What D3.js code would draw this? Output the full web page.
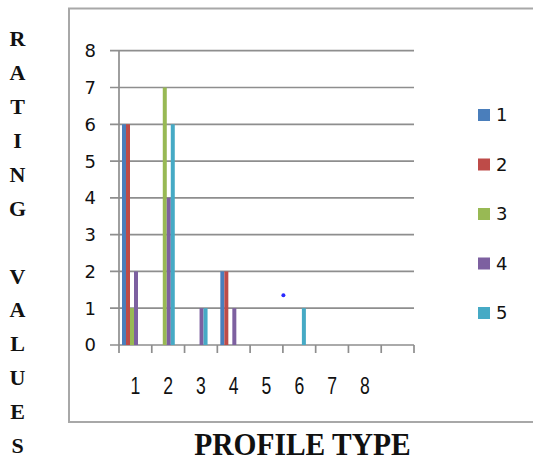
<!DOCTYPE html>
<html>
<head>
<meta charset="utf-8">
<script src="https://cdn.jsdelivr.net/npm/d3@7"></script>
<style>
  html, body { margin: 0; padding: 0; background: #fff; }
  svg { display: block; }
</style>
</head>
<body>
<svg id="chart" width="533" height="462"></svg>
<script>
// Profile types along the x axis (the last slot carries no label)
const categories = [1, 2, 3, 4, 5, 6, 7, 8, 9];
const tickLabels = ["1", "2", "3", "4", "5", "6", "7", "8", ""];
const seriesNames = ["1", "2", "3", "4", "5"];
const seriesColors = ["#4A7EBB", "#BE4B48", "#98B954", "#7D60A0", "#46AAC5"];

// Rating values per series, one entry per profile type
const series1 = [6, 0, 0, 2, 0, 0, 0, 0, 0];
const series2 = [6, 0, 0, 2, 0, 0, 0, 0, 0];
const series3 = [1, 7, 0, 0, 0, 0, 0, 0, 0];
const series4 = [2, 4, 1, 1, 0, 0, 0, 0, 0];
const series5 = [0, 6, 1, 0, 0, 1, 0, 0, 0];
const yTicks = [0, 1, 2, 3, 4, 5, 6, 7, 8];

// A lone marker sitting on the boundary before profile type 6
const strayMarks = [{ boundary: 6, value: 1.35 }];

const allSeries = [series1, series2, series3, series4, series5];

const svg = d3.select("#chart");

const plot = { left: 119, right: 414, top: 50.7, bottom: 345 };

const x0 = d3.scaleBand().domain(categories).range([plot.left, plot.right]).padding(0);
const x1 = d3.scaleBand().domain(seriesNames).range([3, 23]).padding(0);
const y = d3.scaleLinear().domain([0, 8]).range([plot.bottom, plot.top]);

// Outer chart frame (open to the right)
svg.append("rect")
  .attr("x", 69).attr("y", 8.5)
  .attr("width", 520).attr("height", 413.5)
  .attr("fill", "none")
  .attr("stroke", "#a8a8a8")
  .attr("stroke-width", 2);

const gridColor = "#8e8e8e";

// Horizontal gridlines with their short ticks left of the axis
svg.append("g").selectAll("line")
  .data(yTicks)
  .join("line")
  .attr("x1", plot.left - 9).attr("x2", plot.right)
  .attr("y1", d => y(d)).attr("y2", d => y(d))
  .attr("stroke", gridColor)
  .attr("stroke-width", 1.7);

// Vertical axis line
svg.append("line")
  .attr("x1", plot.left).attr("x2", plot.left)
  .attr("y1", y(8)).attr("y2", y(0))
  .attr("stroke", gridColor)
  .attr("stroke-width", 1.7);

// Category boundary ticks below the baseline
const boundaries = categories.map(c => x0(c)).concat([plot.right]);
svg.append("g").selectAll("line")
  .data(boundaries)
  .join("line")
  .attr("x1", d => d).attr("x2", d => d)
  .attr("y1", y(0)).attr("y2", y(0) + 8)
  .attr("stroke", gridColor)
  .attr("stroke-width", 1.7);

// Y tick labels
svg.append("g").selectAll("text")
  .data(yTicks)
  .join("text")
  .attr("x", 96)
  .attr("y", d => y(d))
  .attr("dy", "0.36em")
  .attr("text-anchor", "end")
  .attr("font-family", "DejaVu Sans, sans-serif")
  .attr("font-size", 18)
  .attr("fill", "#111")
  .text(d => d);

// X tick labels at band centres
svg.append("g").selectAll("text")
  .data(categories)
  .join("text")
  .attr("transform", d => `translate(${x0(d) + x0.bandwidth() / 2},${386}) scale(0.88,1.15)`)
  .attr("dy", "0.36em")
  .attr("text-anchor", "middle")
  .attr("font-family", "Liberation Sans, sans-serif")
  .attr("font-size", 20)
  .attr("fill", "#111")
  .text((d, i) => tickLabels[i]);

// Grouped bars
const barData = [];
categories.forEach((c, ci) => {
  seriesNames.forEach((s, si) => {
    barData.push({ cat: c, series: s, value: allSeries[si][ci], color: seriesColors[si] });
  });
});

svg.append("g").selectAll("rect")
  .data(barData.filter(d => d.value > 0))
  .join("rect")
  .attr("x", d => x0(d.cat) + x1(d.series))
  .attr("y", d => y(d.value))
  .attr("width", x1.bandwidth())
  .attr("height", d => y(0) - y(d.value))
  .attr("fill", d => d.color);

// Stray marker
svg.append("defs").append("filter")
  .attr("id", "soft")
  .append("feGaussianBlur").attr("stdDeviation", 0.6);

svg.append("g").selectAll("circle")
  .data(strayMarks)
  .join("circle")
  .attr("cx", d => x0(d.boundary) + 0.5)
  .attr("cy", d => y(d.value))
  .attr("r", 2)
  .attr("fill", "#2a2aff")
  .attr("filter", "url(#soft)");

// Legend
const legend = svg.append("g").selectAll("g")
  .data(seriesNames)
  .join("g")
  .attr("transform", (d, i) => `translate(478,${115 + i * 49.5})`);

legend.append("rect")
  .attr("x", 0).attr("y", -6)
  .attr("width", 12).attr("height", 12)
  .attr("fill", (d, i) => seriesColors[i]);

legend.append("text")
  .attr("x", 18).attr("y", 0)
  .attr("dy", "0.36em")
  .attr("font-family", "DejaVu Sans, sans-serif")
  .attr("font-size", 18)
  .attr("fill", "#111")
  .text(d => d);

// Vertical axis title, stacked letter by letter
const yTitle = "RATING VALUES".split("");
svg.append("g").selectAll("text")
  .data(yTitle)
  .join("text")
  .attr("x", 17.5)
  .attr("y", (d, i) => 38.5 + i * 33.9)
  .attr("dy", "0.35em")
  .attr("text-anchor", "middle")
  .attr("font-family", "Liberation Serif, serif")
  .attr("font-weight", "bold")
  .attr("font-size", 22)
  .attr("fill", "#111")
  .text(d => d);

// Horizontal axis title
svg.append("text")
  .attr("transform", "translate(302.5,443.5) scale(1,1.08)")
  .attr("dy", "0.35em")
  .attr("text-anchor", "middle")
  .attr("font-family", "Liberation Serif, serif")
  .attr("font-weight", "bold")
  .attr("font-size", 29.5)
  .attr("fill", "#111")
  .text("PROFILE TYPE");
</script>
</body>
</html>
